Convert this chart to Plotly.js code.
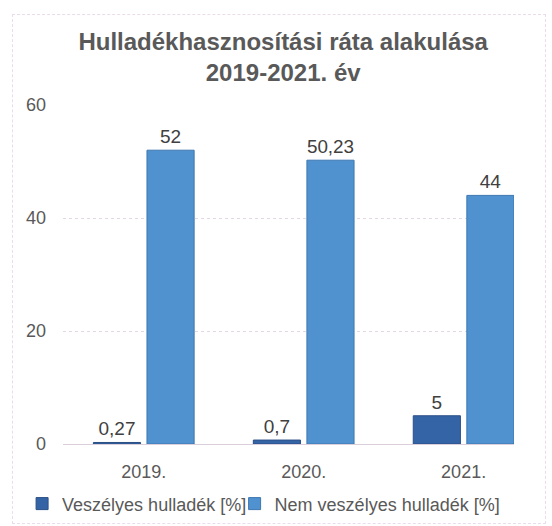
<!DOCTYPE html>
<html>
<head>
<meta charset="utf-8">
<script src="https://cdn.plot.ly/plotly-3.0.1.min.js"></script>
<style>
  body { margin: 0; background: #fff; }
  #wrap { position: relative; width: 552px; height: 526px; }
  #plot { width: 552px; height: 526px; }
  #frame { position: absolute; left: 12px; top: 14px; width: 532px; height: 508px;
           border: 1px dashed #eadcea; pointer-events: none; }
</style>
</head>
<body>
<div id="wrap">
  <div id="plot"></div>
  <div id="frame"></div>
</div>
<script>
// categories and values
let years = ["2019.", "2020.", "2021."];
let hazardous = [0.27, 0.7, 5];
let nonHazardous = [52, 50.23, 44];

// labels with decimal comma
let toLabel = v => String(v).replace(".", ",");

let trace1 = {
  x: years,
  y: hazardous,
  name: "Veszélyes hulladék [%]",
  type: "bar",
  text: hazardous.map(toLabel),
  textposition: "outside",
  cliponaxis: false,
  legend: "legend",
  marker: { color: "#3564a6", line: { color: "#2a4f85", width: 1 } },
  textfont: { size: 19, color: "#404040" }
};

let trace2 = {
  x: years,
  y: nonHazardous,
  name: "Nem veszélyes hulladék [%]",
  type: "bar",
  text: nonHazardous.map(toLabel),
  textposition: "outside",
  cliponaxis: false,
  legend: "legend2",
  marker: { color: "#4f92cf", line: { color: "#3d78b0", width: 1 } },
  textfont: { size: 19, color: "#404040" }
};

// one legend per series so they sit side by side without wrapping
let legendStyle = {
  orientation: "h",
  xref: "container",
  yref: "container",
  xanchor: "left",
  y: 0.042,
  yanchor: "middle",
  font: { size: 18, color: "#595959" },
  itemwidth: 30,
  bgcolor: "rgba(0,0,0,0)"
};

let layout = {
  width: 552,
  height: 526,
  font: { family: "Liberation Sans, Arial, sans-serif", color: "#595959" },
  title: {
    text: "<b>Hulladékhasznosítási ráta alakulása<br>2019-2021. év</b>",
    font: { size: 24, color: "#595959" },
    x: 0.513,
    xanchor: "center",
    y: 0.905,
    yanchor: "top"
  },
  margin: { l: 63, r: 38, t: 105, b: 82 },
  barmode: "group",
  bargap: 0.33,
  bargroupgap: 0.12,
  xaxis: {
    type: "category",
    range: [-0.505, 2.315],
    showline: true,
    linecolor: "#dccfdc",
    tickfont: { size: 18, color: "#595959" },
    ticklabelstandoff: 11
  },
  yaxis: {
    range: [0, 60],
    dtick: 20,
    showgrid: true,
    gridcolor: "#e3d8e3",
    griddash: "dot",
    zeroline: false,
    tickfont: { size: 18, color: "#595959" },
    ticklabelstandoff: 16
  },
  showlegend: true,
  legend: Object.assign({}, legendStyle, { x: 0.04 }),
  legend2: Object.assign({}, legendStyle, { x: 0.425 }),
  plot_bgcolor: "#fff",
  paper_bgcolor: "#fff"
};

Plotly.newPlot("plot", [trace1, trace2], layout, { displayModeBar: false });
</script>
</body>
</html>
